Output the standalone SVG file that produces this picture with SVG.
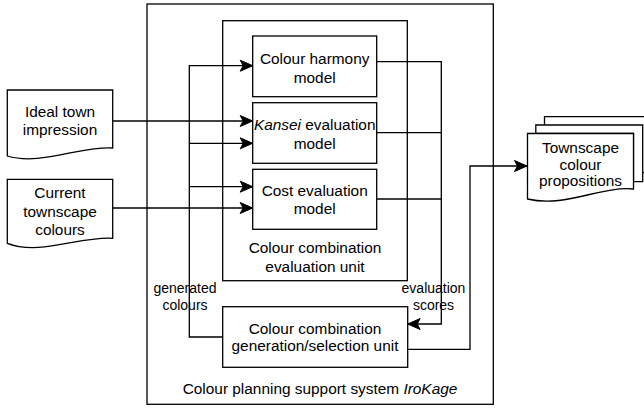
<svg xmlns="http://www.w3.org/2000/svg" width="644" height="408" viewBox="0 0 644 408">
<defs>
<style>
.box{fill:#fff;stroke:#000;stroke-width:1.3}
.ln{fill:none;stroke:#000;stroke-width:1.3}
.arr{fill:none;stroke:#000;stroke-width:1.3;marker-end:url(#ah)}
text{font-family:"Liberation Sans",Arial,Helvetica,sans-serif;font-size:15.4px;fill:#000;text-anchor:middle}
.sm{font-size:14px}
</style>
<marker id="ah" markerUnits="userSpaceOnUse" viewBox="-13 -6 14 12" refX="0" refY="0" markerWidth="14" markerHeight="12" orient="auto" overflow="visible">
<path d="M0,0 L-12.5,-5.5 L-9.5,0 L-12.5,5.5 Z" fill="#000" stroke="#000" stroke-width="1"/>
</marker>
</defs>
<rect width="644" height="408" fill="#fff"/>

<g id="system">
<rect class="box" x="147" y="4" width="346.3" height="400.3"/>
<text x="320" y="393.7">Colour planning support system <tspan font-style="italic">IroKage</tspan></text>
</g>

<g id="eval-unit">
<rect class="box" x="222.7" y="20.7" width="184.6" height="260"/>
<text x="315" y="253.4">Colour combination</text>
<text x="315" y="272.4">evaluation unit</text>
</g>

<g id="connectors">
<path class="arr" d="M112.7,121 H252.7"/>
<path class="arr" d="M112.7,208 H252.7"/>
<path class="arr" d="M222.7,337 H189.3 V65.7 H252.7"/>
<path class="arr" d="M189.3,143.3 H252.7"/>
<path class="arr" d="M189.3,186.7 H252.7"/>
<path class="ln" d="M376.7,132.7 H441.3"/>
<path class="ln" d="M376.7,199 H441.3"/>
<path class="arr" d="M376.7,61.7 H441.3 V324 H407.7"/>
<path class="arr" d="M407.7,349.3 H470 V166 H527"/>
<text class="sm" x="185" y="292.9">generated</text>
<text class="sm" x="185" y="309.9">colours</text>
<text class="sm" x="433.5" y="292.9">evaluation</text>
<text class="sm" x="433.5" y="309.9">scores</text>
</g>

<g id="ideal-town">
<path class="box" d="M7.3,90 H112.7 V148 C80,146 40,166 7.3,156 Z"/>
<text x="60" y="117.1">Ideal town</text>
<text x="60" y="134.7">impression</text>
</g>

<g id="current-colours">
<path class="box" d="M7.3,179.3 H112.7 V238.3 C80,236 40,256 7.3,243.3 Z"/>
<text x="60" y="198.4">Current</text>
<text x="60" y="217">townscape</text>
<text x="60" y="235.4">colours</text>
</g>

<g id="harmony">
<rect class="box" x="252.7" y="36" width="124" height="60.7"/>
<text x="314.7" y="64.4">Colour harmony</text>
<text x="314.7" y="83.1">model</text>
</g>

<g id="kansei">
<rect class="box" x="252.7" y="102.7" width="124" height="60.6"/>
<text x="314.7" y="130"><tspan font-style="italic">Kansei</tspan> evaluation</text>
<text x="314.7" y="148.7">model</text>
</g>

<g id="cost">
<rect class="box" x="252.7" y="169.3" width="124" height="60"/>
<text x="314.7" y="196.4">Cost evaluation</text>
<text x="314.7" y="213.7">model</text>
</g>

<g id="generation">
<rect class="box" x="222.7" y="306.7" width="185" height="60.6"/>
<text x="315" y="333.7">Colour combination</text>
<text x="315" y="351.4">generation/selection unit</text>
</g>

<g id="propositions">
<path class="ln" d="M544.5,125 V116.7 H650 V172.7 H642.7"/>
<path class="box" d="M535.8,125 H642.7 V181.7 H633.5 V133.5 H535.8 Z"/>
<path class="box" d="M527.5,133.5 H633.5 V189 C600,186 565,208 527.5,199 Z"/>
<text x="580.5" y="153">Townscape</text>
<text x="580.5" y="169.5">colour</text>
<text x="580.5" y="186">propositions</text>
</g>
</svg>
